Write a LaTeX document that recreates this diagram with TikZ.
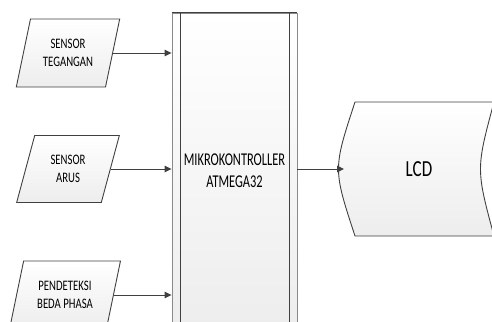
\documentclass[tikz,border=0pt]{standalone}
\usepackage{fontspec}
\setmainfont{Carlito}
\newfontfamily\fa[FakeStretch=0.74]{Carlito}
\newfontfamily\fb[FakeStretch=0.69]{Carlito}
\usetikzlibrary{shapes.geometric,arrows.meta}
\definecolor{ln}{HTML}{404040}
\definecolor{lnlight}{HTML}{8A8A8A}
\definecolor{fillbot}{HTML}{EDEDED}
\tikzset{
  io/.style={trapezium, trapezium left angle=71, trapezium right angle=109,
    trapezium stretches=true, draw=ln, line width=0.9pt, top color=white, bottom color=fillbot,
    inner sep=0pt, align=center, font=\fa\fontsize{14.5}{18}\selectfont},
  arr/.style={draw=ln, line width=0.9pt, -{Triangle[length=7pt,width=6.5pt]}},
  mcubox/.style={rectangle, draw=lnlight, line width=0.9pt, top color=white, bottom color=fillbot,
    inner sep=0pt, align=center, font=\fb\fontsize{18}{22}\selectfont},
  shp/.style={draw=ln, line width=0.9pt, top color=white, bottom color=fillbot}
}
\begin{document}
\begin{tikzpicture}[x=1pt,y=-1pt]
\useasboundingbox (0,0) rectangle (492,321);
\clip (0,0) rectangle (492,321);
% inputs
\node[io, minimum width=104pt, minimum height=68pt] (p1) at (68,53) {SENSOR\\TEGANGAN};
\node[io, minimum width=103pt, minimum height=67pt] (p2) at (68,169) {SENSOR\\ARUS};
\node[io, minimum width=111pt, minimum height=68pt] (p3) at (65,295) {PENDETEKSI\\BEDA PHASA};
% microcontroller
\node[mcubox, minimum width=125pt, minimum height=316pt] (mcu) at (234.5,171) {MIKROKONTROLLER\\ATMEGA32};
\draw[ln, line width=0.9pt] (mcu.north west) -- (mcu.north east);
\draw[ln, line width=0.9pt] ([xshift=9pt]mcu.north west) -- ([xshift=9pt]mcu.south west);
\draw[ln, line width=0.9pt] ([xshift=-8pt]mcu.north east) -- ([xshift=-8pt]mcu.south east);
% LCD
\path[shp] (355,102) -- (494,102) .. controls (476,169) .. (494,236) -- (355,236) .. controls (333,169) .. cycle;
\coordinate (lcdin) at (344,169);
\node[font=\fa\fontsize{23}{26}\selectfont, inner sep=0pt] (lcd) at (419,169) {LCD};
% connectors
\draw[arr] (p1.east) -- (p1.east -| mcu.west);
\draw[arr] (p2.east) -- (p2.east -| mcu.west);
\draw[arr] (p3.east) -- (p3.east -| mcu.west);
\draw[arr] (mcu.east |- lcdin) -- (lcdin);
\end{tikzpicture}
\end{document}
